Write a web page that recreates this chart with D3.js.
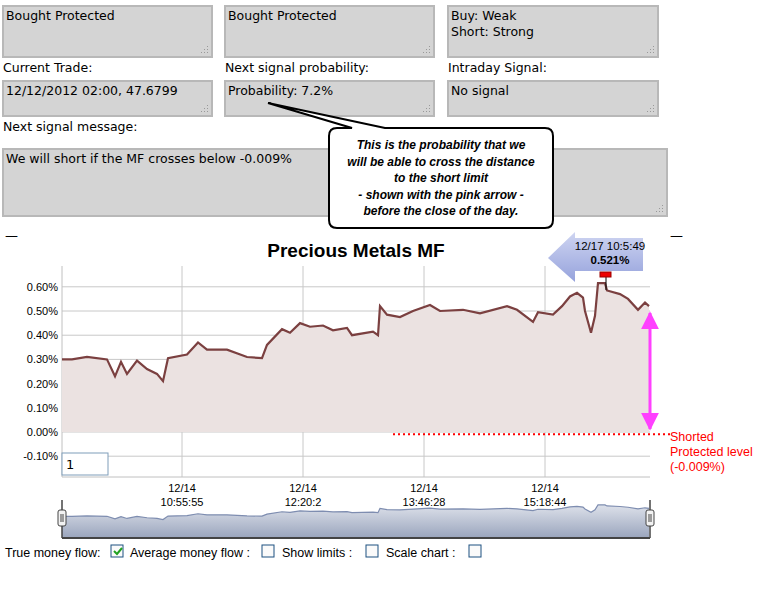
<!DOCTYPE html>
<html>
<head>
<meta charset="utf-8">
<script src="https://d3js.org/d3.v7.min.js"></script>
<style>
  body { margin: 0; background: #fff; font-family: Tahoma, "DejaVu Sans", sans-serif; }
  svg text { font-family: "DejaVu Sans", sans-serif; }
  svg text.ls { font-family: "Liberation Sans", Arial, sans-serif; }
</style>
</head>
<body>
<svg id="chart" width="775" height="613"></svg>
<script>
// money flow samples: position along the session (0..588) and value in %
const samplePos = [0, 10, 25, 45, 53, 59, 65, 75, 85, 95, 101, 106, 125, 136, 145, 165, 185, 200, 205,
  220, 228, 238, 248, 261, 271, 285, 290, 311, 316, 318, 325, 338, 351, 368, 378, 401, 418, 445, 455,
  471, 476, 491, 500, 508, 515, 521, 523, 529, 533, 536, 543, 545, 558, 566, 576, 583, 587]
const mfValues = [0.30, 0.30, 0.31, 0.30, 0.23, 0.29, 0.24, 0.295, 0.26, 0.24, 0.21, 0.305, 0.32, 0.37,
  0.34, 0.34, 0.31, 0.305, 0.36, 0.425, 0.41, 0.45, 0.435, 0.44, 0.42, 0.43, 0.40, 0.415, 0.40, 0.52,
  0.485, 0.475, 0.50, 0.525, 0.50, 0.505, 0.49, 0.52, 0.505, 0.455, 0.495, 0.485, 0.52, 0.56, 0.575,
  0.555, 0.50, 0.41, 0.48, 0.615, 0.615, 0.585, 0.57, 0.55, 0.505, 0.535, 0.52]
const yTicks = [-0.1, 0, 0.1, 0.2, 0.3, 0.4, 0.5, 0.6]
const xTickPos = [120, 241, 362, 483]
const xTickLabels = [['12/14', '10:55:55'], ['12/14', '12:20:2'], ['12/14', '13:46:28'], ['12/14', '15:18:44']]
const shortLimit = -0.009

const svg = d3.select('#chart')

// ---- form fields at the top
const boxes = [
  { x: 3, y: 6, w: 209, h: 51, lines: ['Bought Protected'] },
  { x: 225, y: 6, w: 209, h: 51, lines: ['Bought Protected'] },
  { x: 448, y: 6, w: 210, h: 51, lines: ['Buy: Weak', 'Short: Strong'] },
  { x: 3, y: 81, w: 209, h: 35, lines: ['12/12/2012 02:00, 47.6799'] },
  { x: 225, y: 81, w: 209, h: 35, lines: ['Probability: 7.2%'] },
  { x: 448, y: 81, w: 210, h: 35, lines: ['No signal'] },
  { x: 3, y: 149, w: 664, h: 67, lines: ['We will short if the MF crosses below -0.009%'] }
]
const labels = [
  { x: 3, y: 72, t: 'Current Trade:' },
  { x: 225, y: 72, t: 'Next signal probability:' },
  { x: 448, y: 72, t: 'Intraday Signal:' },
  { x: 3, y: 131, t: 'Next signal message:' }
]
boxes.forEach(b => {
  const g = svg.append('g')
  g.append('rect').attr('x', b.x).attr('y', b.y).attr('width', b.w).attr('height', b.h)
    .attr('fill', '#d4d4d4').attr('stroke', '#b8b8b8').attr('stroke-width', 2)
  b.lines.forEach((l, i) => {
    g.append('text').attr('x', b.x + 3).attr('y', b.y + 14 + i * 16).attr('font-size', 12.5).text(l)
  })
  for (let i = 0; i < 3; i++) {
    for (let j = 0; j <= i; j++) {
      g.append('rect').attr('x', b.x + b.w - 5 - j * 3).attr('y', b.y + b.h - 11 + i * 3)
        .attr('width', 1).attr('height', 1).attr('fill', '#999')
    }
  }
})
labels.forEach(l => svg.append('text').attr('x', l.x).attr('y', l.y).attr('font-size', 12.5).text(l.t))

// ---- chart
const plotL = 62, plotR = 650, plotT = 266, plotB = 477
const x = d3.scaleLinear().domain([0, 588]).range([plotL, plotR])
const y = d3.scaleLinear().domain([-0.186, 0.686]).range([plotB, plotT])
const data = samplePos.map((p, i) => ({ p, v: mfValues[i] }))

svg.append('text').attr('class', 'ls').attr('x', 356).attr('y', 257).attr('text-anchor', 'middle')
  .attr('font-size', 19).attr('font-weight', 'bold').text('Precious Metals MF')
svg.append('text').attr('x', 5).attr('y', 240).attr('font-size', 13).text('—')
svg.append('text').attr('x', 670).attr('y', 240).attr('font-size', 13).text('—')

const grid = svg.append('g')
grid.selectAll('.hg').data(yTicks).join('line')
  .attr('x1', plotL).attr('x2', plotR).attr('y1', d => y(d)).attr('y2', d => y(d))
  .attr('stroke', '#c8c8c8')
grid.selectAll('.vg').data(xTickPos).join('line')
  .attr('x1', d => x(d)).attr('x2', d => x(d)).attr('y1', plotT).attr('y2', plotB)
  .attr('stroke', '#c8c8c8')
svg.append('line').attr('x1', plotL).attr('x2', plotL).attr('y1', plotT).attr('y2', plotB).attr('stroke', '#c0c0c0')
svg.append('line').attr('x1', plotL).attr('x2', plotR).attr('y1', plotB).attr('y2', plotB).attr('stroke', '#c0c0c0')

svg.append('g').selectAll('text').data(yTicks).join('text').attr('class', 'ls')
  .attr('x', 58).attr('y', d => y(d) + 4).attr('text-anchor', 'end').attr('font-size', 11)
  .text(d => d.toFixed(2) + '%')

const xl = svg.append('g').selectAll('text').data(xTickPos).join('text').attr('class', 'ls')
  .attr('x', d => x(d)).attr('text-anchor', 'middle').attr('font-size', 11)
xl.append('tspan').attr('x', d => x(d)).attr('y', 492).text((d, i) => xTickLabels[i][0])
xl.append('tspan').attr('x', d => x(d)).attr('y', 506).text((d, i) => xTickLabels[i][1])

svg.append('path').datum(data)
  .attr('d', d3.area().x(d => x(d.p)).y0(y(0)).y1(d => y(d.v)))
  .attr('fill', '#ebe2e1')
svg.append('path').datum(data)
  .attr('d', d3.line().x(d => x(d.p)).y(d => y(d.v)))
  .attr('fill', 'none').attr('stroke', '#7b4040').attr('stroke-width', 2.2)

// input box
svg.append('rect').attr('x', 62).attr('y', 453).attr('width', 46).attr('height', 22)
  .attr('fill', '#fff').attr('stroke', '#7f9db9')
svg.append('text').attr('x', 66).attr('y', 469).attr('font-size', 13).text('1')

// short limit
svg.append('line').attr('x1', 393).attr('x2', 670).attr('y1', y(shortLimit)).attr('y2', y(shortLimit))
  .attr('stroke', '#ff0000').attr('stroke-width', 2).attr('stroke-dasharray', '2,3')
;['Shorted', 'Protected level', '(-0.009%)'].forEach((t, i) => {
  svg.append('text').attr('class', 'ls').attr('x', 670).attr('y', 441 + i * 15).attr('font-size', 12.5)
    .attr('fill', '#ff0000').text(t)
})

// pink arrow
const defs = svg.append('defs')
const mk = defs.append('marker').attr('id', 'ph').attr('viewBox', '0 0 10 10').attr('refX', 9).attr('refY', 5)
  .attr('markerWidth', 18).attr('markerHeight', 18).attr('orient', 'auto-start-reverse').attr('markerUnits', 'userSpaceOnUse')
mk.append('path').attr('d', 'M0,0L10,5L0,10z').attr('fill', '#ff40ff')
svg.append('line').attr('x1', 650).attr('x2', 650).attr('y1', 313).attr('y2', 429)
  .attr('stroke', '#ff40ff').attr('stroke-width', 3)
  .attr('marker-start', 'url(#ph)').attr('marker-end', 'url(#ph)')

// flag + tooltip
svg.append('line').attr('x1', 606).attr('x2', 606).attr('y1', 275).attr('y2', 290).attr('stroke', '#000')
svg.append('rect').attr('x', 600).attr('y', 272).attr('width', 11).attr('height', 5)
  .attr('fill', '#e00').attr('stroke', '#900')
const grad = defs.append('linearGradient').attr('id', 'tg').attr('x1', 0).attr('y1', 0).attr('x2', 0).attr('y2', 1)
grad.append('stop').attr('offset', 0).attr('stop-color', '#c9d0f0')
grad.append('stop').attr('offset', 1).attr('stop-color', '#8a98d8')
svg.append('path').attr('d', 'M548,258 L575,232 L575,238 L643,238 L643,271 L575,271 L575,282 Z')
  .attr('fill', 'url(#tg)').attr('opacity', 0.9)
svg.append('text').attr('class', 'ls').attr('x', 610).attr('y', 250).attr('text-anchor', 'middle').attr('font-size', 11.5).text('12/17 10:5:49')
svg.append('text').attr('class', 'ls').attr('x', 610).attr('y', 264).attr('text-anchor', 'middle').attr('font-size', 11.5)
  .attr('font-weight', 'bold').text(d3.format('.3f')(0.521) + '%')

// navigator
const ny = d3.scaleLinear().domain([-0.3, 0.75]).range([538, 500])
const ng = defs.append('linearGradient').attr('id', 'ng').attr('x1', 0).attr('y1', 0).attr('x2', 0).attr('y2', 1)
ng.append('stop').attr('offset', 0).attr('stop-color', '#dde1ea')
ng.append('stop').attr('offset', 1).attr('stop-color', '#9aa5bd')
svg.append('path').datum(data)
  .attr('d', d3.area().x(d => x(d.p)).y0(538).y1(d => ny(d.v)))
  .attr('fill', 'url(#ng)')
svg.append('path').datum(data)
  .attr('d', d3.line().x(d => x(d.p)).y(d => ny(d.v)))
  .attr('fill', 'none').attr('stroke', '#7e8db0').attr('stroke-width', 1.2)
svg.append('line').attr('x1', plotL).attr('x2', plotR).attr('y1', 538).attr('y2', 538).attr('stroke', '#444').attr('stroke-width', 2)
;[plotL, plotR].forEach(hx => {
  svg.append('line').attr('x1', hx).attr('x2', hx).attr('y1', 500).attr('y2', 538).attr('stroke', '#444').attr('stroke-width', 1.5)
  svg.append('rect').attr('x', hx - 4).attr('y', 510).attr('width', 8).attr('height', 16).attr('rx', 2)
    .attr('fill', '#f2f2f2').attr('stroke', '#444')
  svg.append('line').attr('x1', hx - 1).attr('x2', hx - 1).attr('y1', 514).attr('y2', 522).attr('stroke', '#444')
  svg.append('line').attr('x1', hx + 1).attr('x2', hx + 1).attr('y1', 514).attr('y2', 522).attr('stroke', '#444')
})

// checkbox row
const opts = [
  { t: 'True money flow:', x: 5, box: 111, on: true },
  { t: 'Average money flow :', x: 130, box: 262, on: false },
  { t: 'Show limits :', x: 282, box: 366, on: false },
  { t: 'Scale chart :', x: 386, box: 469, on: false }
]
opts.forEach(o => {
  svg.append('text').attr('class', 'ls').attr('x', o.x).attr('y', 557).attr('font-size', 12.5).text(o.t)
  svg.append('rect').attr('x', o.box).attr('y', 545).attr('width', 12).attr('height', 12)
    .attr('fill', '#fafafa').attr('stroke', '#1c5180')
  if (o.on) {
    svg.append('path').attr('d', `M${o.box + 3},${551} l3,3 l5,-6`).attr('fill', 'none')
      .attr('stroke', '#21a121').attr('stroke-width', 2)
  }
})

// callout bubble
svg.append('path')
  .attr('d', 'M337,128 L352,128 L268,103 L385,128 L545,128 Q553,128 553,136 L553,220 Q553,228 545,228 L337,228 Q329,228 329,220 L329,136 Q329,128 337,128 Z')
  .attr('fill', '#fff').attr('stroke', '#000').attr('stroke-width', 2)
;['This is the probability that we', 'will be able to cross the distance', 'to the short limit',
  '- shown with the pink arrow -', 'before the close of the day.'].forEach((t, i) => {
  svg.append('text').attr('class', 'ls').attr('x', 441).attr('y', 149 + i * 16.5).attr('text-anchor', 'middle')
    .attr('font-size', 12).attr('font-style', 'italic').attr('font-weight', 'bold').text(t)
})
</script>
</body>
</html>
